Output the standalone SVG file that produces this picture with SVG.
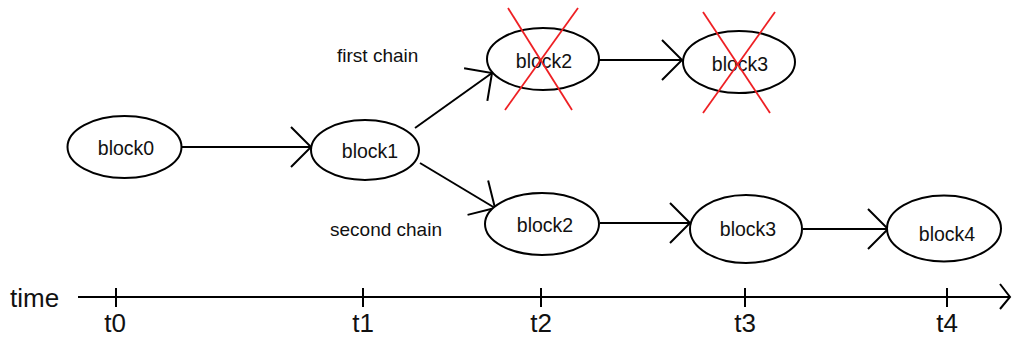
<svg xmlns="http://www.w3.org/2000/svg" width="1013" height="338" viewBox="0 0 1013 338">
<style>
.node ellipse{fill:#fff;stroke:#000;stroke-width:2}
.lbl{font-family:"Liberation Sans",Arial,sans-serif;font-size:19.5px;fill:#111;text-anchor:middle}
.txt{font-family:"Liberation Sans",Arial,sans-serif;font-size:19px;fill:#111}
.tl{font-family:"Liberation Sans",Arial,sans-serif;font-size:26px;fill:#111}
.edge{stroke:#000;stroke-width:2;fill:none}
.cross{stroke:#ee2024;stroke-width:1.8;fill:none}
</style>
<defs>
<marker id="ah" markerUnits="userSpaceOnUse" markerWidth="1" markerHeight="1" refX="0" refY="0" orient="auto" overflow="visible">
<path d="M-20,-20 L0,0 L-20,20" fill="none" stroke="#000" stroke-width="2"/>
</marker>
<marker id="axh" markerUnits="userSpaceOnUse" markerWidth="1" markerHeight="1" refX="0" refY="0" orient="auto" overflow="visible">
<path d="M-10,-13 L0,0 L-10,12" fill="none" stroke="#000" stroke-width="2"/>
</marker>
</defs>

<g id="connectors">
<line class="edge" x1="182" y1="147" x2="311" y2="147" marker-end="url(#ah)"/>
<line class="edge" x1="415" y1="128" x2="492" y2="73" marker-end="url(#ah)"/>
<line class="edge" x1="599" y1="60" x2="682" y2="60" marker-end="url(#ah)"/>
<line class="edge" x1="420" y1="163" x2="495" y2="208" marker-end="url(#ah)"/>
<line class="edge" x1="600" y1="223" x2="690" y2="223" marker-end="url(#ah)"/>
<line class="edge" x1="803" y1="229" x2="888" y2="229" marker-end="url(#ah)"/>
</g>

<g id="block0" class="node"><ellipse cx="124.5" cy="147" rx="57" ry="31"/><text class="lbl" x="126" y="155">block0</text></g>
<g id="block1" class="node"><ellipse cx="365" cy="150" rx="54" ry="30"/><text class="lbl" x="370" y="158">block1</text></g>
<g id="block2-first" class="node"><ellipse cx="543" cy="59" rx="56" ry="31"/><text class="lbl" x="544" y="68">block2</text></g>
<g id="block3-first" class="node"><ellipse cx="739" cy="62" rx="56" ry="31"/><text class="lbl" x="740" y="71">block3</text></g>
<g id="block2-second" class="node"><ellipse cx="542" cy="224" rx="57" ry="31"/><text class="lbl" x="545" y="232">block2</text></g>
<g id="block3-second" class="node"><ellipse cx="746" cy="229" rx="56" ry="34"/><text class="lbl" x="748" y="236">block3</text></g>
<g id="block4" class="node"><ellipse cx="944" cy="228.5" rx="57" ry="33"/><text class="lbl" x="947" y="241">block4</text></g>

<g id="crosses">
<line class="cross" x1="508" y1="8" x2="572" y2="110"/>
<line class="cross" x1="578" y1="8" x2="505" y2="110"/>
<line class="cross" x1="703" y1="12" x2="770" y2="113"/>
<line class="cross" x1="775" y1="12" x2="703" y2="113"/>
</g>

<g id="labels">
<text class="txt" x="337" y="62">first chain</text>
<text class="txt" x="330" y="236">second chain</text>
</g>

<g id="timeline">
<line class="edge" x1="78" y1="297" x2="1010" y2="297" marker-end="url(#axh)"/>
<line class="edge" x1="116" y1="288" x2="116" y2="307"/>
<line class="edge" x1="363" y1="288" x2="363" y2="307"/>
<line class="edge" x1="541" y1="288" x2="541" y2="307"/>
<line class="edge" x1="745" y1="288" x2="745" y2="307"/>
<line class="edge" x1="947" y1="288" x2="947" y2="307"/>
<text class="tl" x="10" y="307">time</text>
<text class="tl" x="115" y="332" text-anchor="middle">t0</text>
<text class="tl" x="363" y="332" text-anchor="middle">t1</text>
<text class="tl" x="541" y="332" text-anchor="middle">t2</text>
<text class="tl" x="745" y="332" text-anchor="middle">t3</text>
<text class="tl" x="947" y="332" text-anchor="middle">t4</text>
</g>
</svg>
